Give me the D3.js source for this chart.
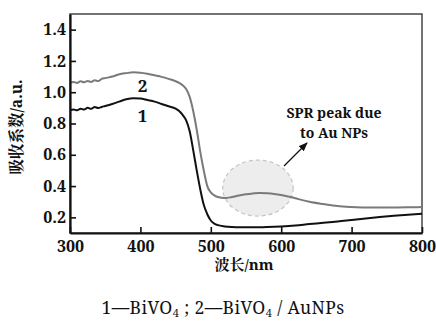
<!DOCTYPE html>
<html><head><meta charset="utf-8">
<script src="https://cdn.jsdelivr.net/npm/d3@7/dist/d3.min.js"></script>
<style>body{margin:0;background:#fff}svg{display:block}
.sf{font-family:"Noto Serif","Liberation Serif",serif}
.cjk{font-family:"Noto Serif CJK SC","Noto Sans CJK SC",serif}
</style>
</head><body>
<svg id="c" width="436" height="322"></svg>
<script>
const wl1 = [300,305,310,315,320,325,330,335,340,345,350,360,370,380,390,400,410,420,430,440,450,455,460,465,470,475,480,485,490,495,500,505,510,520,530,540,560,580,600,620,640,660,680,700,720,740,760,780,800];
const abs1 = [0.885,0.89,0.884,0.895,0.889,0.9,0.894,0.905,0.899,0.906,0.912,0.925,0.94,0.955,0.962,0.96,0.95,0.94,0.925,0.91,0.895,0.88,0.855,0.82,0.75,0.63,0.5,0.38,0.28,0.22,0.18,0.16,0.15,0.142,0.138,0.136,0.136,0.138,0.142,0.148,0.157,0.165,0.174,0.183,0.193,0.202,0.21,0.217,0.223];
const wl2 = [300,305,310,315,320,325,330,335,340,345,350,360,370,380,390,400,410,420,430,440,450,455,460,465,470,475,480,485,490,495,500,505,510,520,530,540,550,560,570,580,590,600,610,620,630,640,660,680,700,720,740,760,780,800];
const abs2 = [1.06,1.066,1.059,1.07,1.064,1.071,1.066,1.076,1.071,1.085,1.09,1.1,1.115,1.122,1.127,1.125,1.118,1.108,1.098,1.085,1.07,1.06,1.045,1.02,0.97,0.88,0.76,0.62,0.5,0.4,0.36,0.34,0.33,0.323,0.33,0.34,0.348,0.353,0.356,0.354,0.35,0.343,0.333,0.322,0.31,0.3,0.285,0.272,0.266,0.263,0.263,0.263,0.264,0.266];
const xTicks = [300,400,500,600,700,800];
const yTicks = [0.2,0.4,0.6,0.8,1.0,1.2,1.4];
const seriesLabels = ["1","2"];
const annotation = ["SPR peak due","to Au NPs"];

const svg = d3.select("#c");
const L=70,R=422,T=14,B=233;
const x = d3.scaleLinear().domain([300,800]).range([L,R]);
const y = d3.scaleLinear().domain([0.1,1.5]).range([B,T]);

svg.append("ellipse").attr("cx",x(567)).attr("cy",y(0.387))
  .attr("rx",x(617)-x(567)).attr("ry",y(0.387)-y(0.566))
  .attr("fill","#ededed").attr("stroke","#c4c4c4").attr("stroke-width",1.2).attr("stroke-dasharray","4,3");

svg.append("rect").attr("x",L).attr("y",T).attr("width",R-L).attr("height",B-T)
  .attr("fill","none").attr("stroke","#3a3a3a").attr("stroke-width",1.4);

const line = d3.line().x(d=>x(d[0])).y(d=>y(d[1])).curve(d3.curveMonotoneX);
svg.append("path").datum(wl2.map((w,i)=>[w,abs2[i]])).attr("d",line)
  .attr("fill","none").attr("stroke","#7a7a7a").attr("stroke-width",2);
svg.append("path").datum(wl1.map((w,i)=>[w,abs1[i]])).attr("d",line)
  .attr("fill","none").attr("stroke","#111").attr("stroke-width",2);

const xa = svg.append("g").attr("transform",`translate(0,${B})`)
  .call(d3.axisBottom(x).tickValues(xTicks).tickSizeInner(-6).tickSizeOuter(0).tickPadding(8).tickFormat(d3.format("d")));
const ya = svg.append("g").attr("transform",`translate(${L},0)`)
  .call(d3.axisLeft(y).tickValues(yTicks).tickSizeInner(-6).tickSizeOuter(0).tickPadding(4).tickFormat(d3.format(".1f")));
[xa,ya].forEach(g=>{
  g.attr("font-family",null).attr("font-size",null);
  g.select(".domain").attr("stroke","#111").attr("stroke-width",2.2);
  g.selectAll(".tick line").attr("stroke","#111").attr("stroke-width",1.6);
  g.selectAll("text").attr("class","sf").style("font-weight","bold").style("font-size","16px").attr("fill","#111");
});

const xt = svg.append("text").attr("x",244).attr("y",270).attr("text-anchor","middle")
  .style("font-size","15px").attr("fill","#111");
xt.append("tspan").attr("class","cjk").style("font-weight","bold").text("波长");
xt.append("tspan").attr("class","sf").style("font-weight","bold").text("/nm");

const yt = svg.append("text").attr("transform","translate(22,127) rotate(-90)").attr("text-anchor","middle")
  .style("font-size","15.5px").attr("fill","#111");
yt.append("tspan").attr("class","cjk").style("font-weight","bold").text("吸收系数");
yt.append("tspan").attr("class","sf").style("font-weight","bold").text("/a.u.");

svg.append("text").attr("class","sf").attr("x",x(403)).attr("y",y(1.0)).attr("text-anchor","middle")
  .style("font-weight","bold").style("font-size","17px").attr("fill","#111").text(seriesLabels[1]);
svg.append("text").attr("class","sf").attr("x",x(403)).attr("y",y(0.81)).attr("text-anchor","middle")
  .style("font-weight","bold").style("font-size","17px").attr("fill","#111").text(seriesLabels[0]);

annotation.forEach((t,i)=>{
  svg.append("text").attr("class","sf").attr("x",334).attr("y",118+i*20).attr("text-anchor","middle")
    .style("font-weight","bold").style("font-size","14px").attr("fill","#111").text(t);
});
svg.append("defs").append("marker").attr("id","ah").attr("viewBox","0 0 10 10").attr("refX",9).attr("refY",5)
  .attr("markerWidth",7).attr("markerHeight",7).attr("orient","auto")
  .append("path").attr("d","M0,1 L10,5 L0,9 Z").attr("fill","#111");
svg.append("line").attr("x1",284).attr("y1",166).attr("x2",307).attr("y2",143)
  .attr("stroke","#111").attr("stroke-width",1.3).attr("marker-end","url(#ah)");

const cap = svg.append("text").attr("class","sf").attr("x",223).attr("y",314).attr("text-anchor","middle")
  .style("font-size","17.5px").style("letter-spacing","0.4px").attr("fill","#111");
cap.append("tspan").text("1—BiVO");
cap.append("tspan").style("font-size","11px").attr("dy",3).text("4");
cap.append("tspan").attr("dy",-3).text(" ; 2—BiVO");
cap.append("tspan").style("font-size","11px").attr("dy",3).text("4");
cap.append("tspan").attr("dy",-3).text(" / AuNPs");
</script>
</body></html>
